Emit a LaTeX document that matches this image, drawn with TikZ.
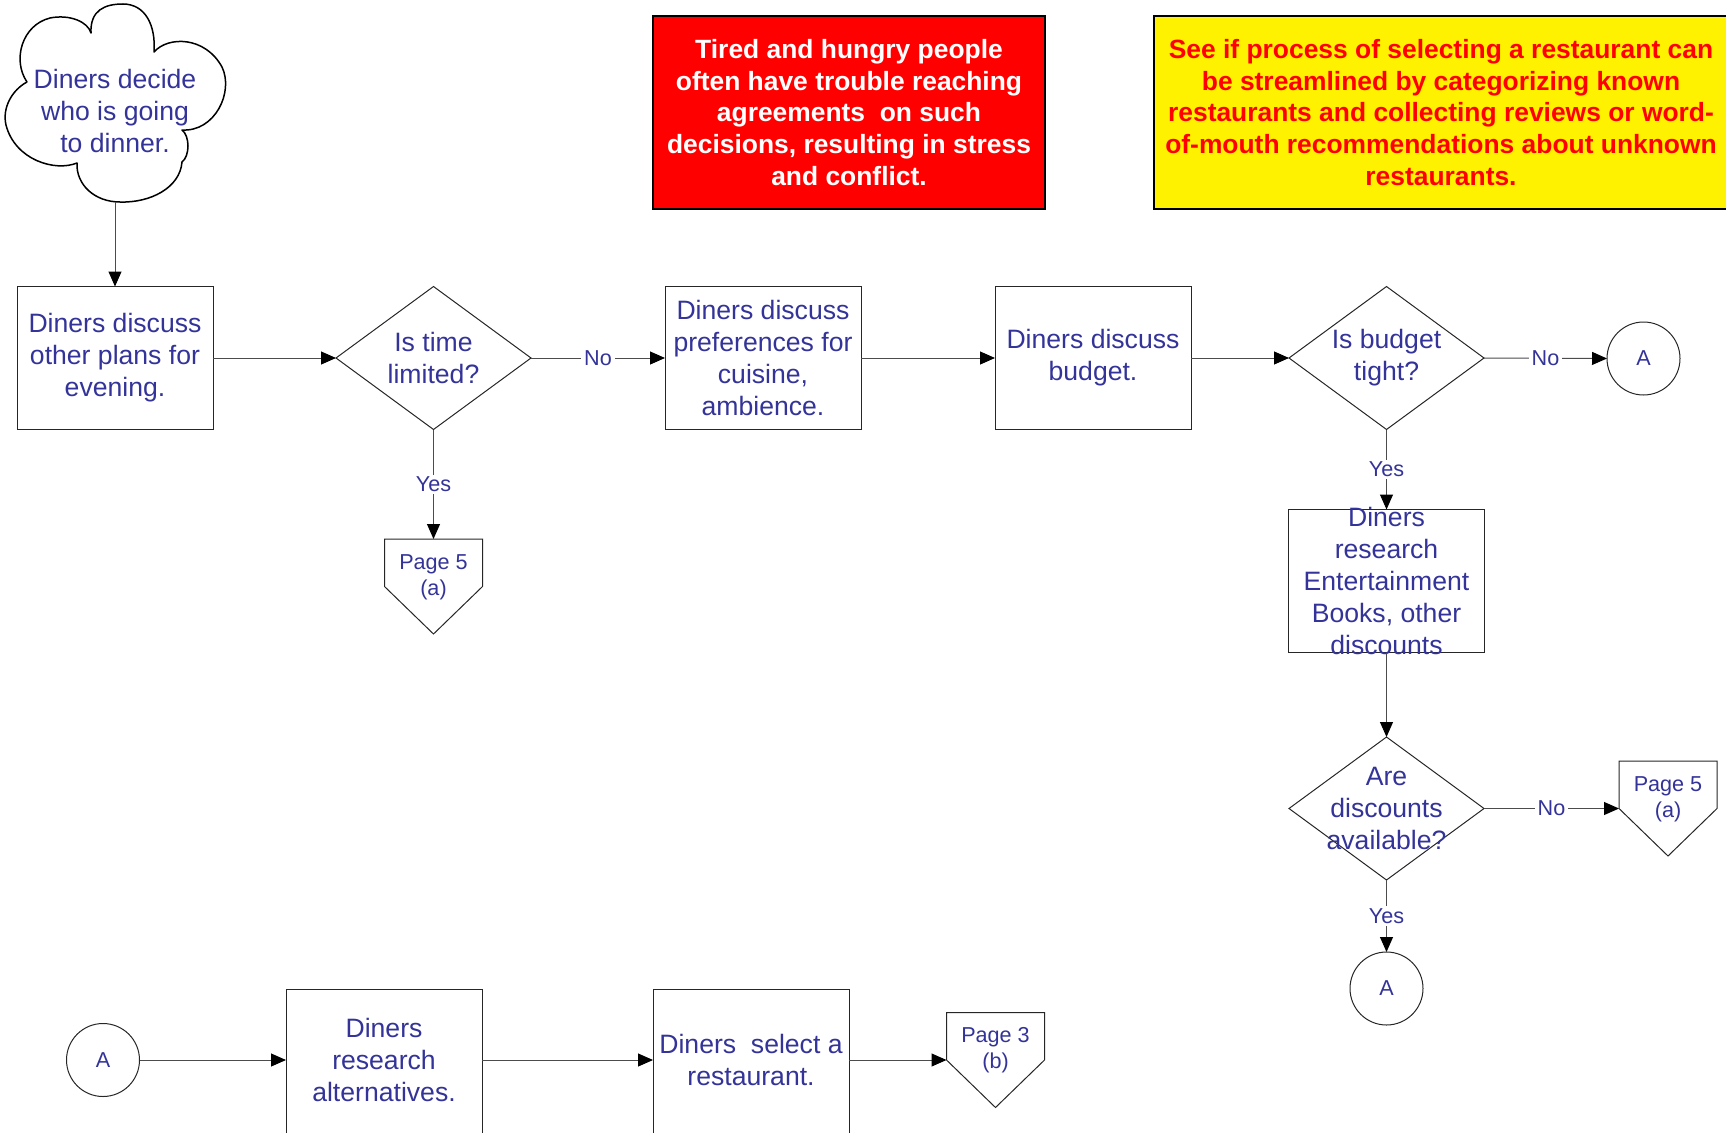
\documentclass[tikz,border=0pt]{standalone}
\usepackage{fontspec}
\setmainfont{Liberation Sans}
\usetikzlibrary{shapes.geometric,arrows.meta,calc}
\definecolor{txtblue}{RGB}{51,51,153}
\newcommand\offpg[4]{%
  \node[pgbox] (#1) at (#2,#3) {};
  \draw[shp] (#1.north west) -- (#1.north east) -- (#1.east) -- (#1.south) -- (#1.west) -- cycle;
  \node[stxt] (#1t) at ([yshift=9.5pt]#1.center) {#4};
}
\begin{document}
\begin{tikzpicture}[x=1pt,y=-1pt,
  box/.style={draw=black!85, line width=1pt, minimum width=196pt, minimum height=143pt, inner sep=0pt, outer sep=0pt, font=\fontsize{26.6}{32}\selectfont, text=txtblue, align=center},
  dec/.style={diamond, draw=black!85, line width=1pt, minimum width=195pt, minimum height=143pt, inner sep=0pt, outer sep=0pt},
  mtxt/.style={font=\fontsize{26.6}{32}\selectfont, text=txtblue, align=center, inner sep=0pt},
  stxt/.style={font=\fontsize{21.6}{26}\selectfont, text=txtblue, align=center, inner sep=0pt},
  conn/.style={circle, draw=black!85, line width=1pt, minimum size=73pt, inner sep=0pt, outer sep=0pt, font=\fontsize{21.6}{26}\selectfont, text=txtblue},
  arr/.style={draw=black!70, line width=1pt, -{Triangle[length=15pt,width=13pt,color=black]}},
  lab/.style={fill=white, font=\fontsize{21.6}{26}\selectfont, text=txtblue, inner xsep=3pt, inner ysep=2pt},
  pgbox/.style={minimum width=98pt, minimum height=95pt, inner sep=0pt, outer sep=0pt},
  shp/.style={draw=black!85, line width=1pt, line join=miter},
  cloudline/.style={draw=black, line width=1.5pt, line join=round},
  note/.style={draw=black, line width=1.5pt, inner sep=0pt, minimum height=193pt, font=\bfseries\fontsize{26.4}{31.7}\selectfont, align=center},
]
\useasboundingbox (0,0) rectangle (1726,1132);

% notes
\node[note, fill=red, text=white, minimum width=392pt] (n1) at (849,112.5)
  {Tired and hungry people\\often have trouble reaching\\agreements~ on such\\decisions, resulting in stress\\and conflict.};
\node[note, fill=yellow, text=red, minimum width=574pt] (n2) at (1441,112.5)
  {See if process of selecting a restaurant can\\be streamlined by categorizing known\\restaurants and collecting reviews or word-\\of-mouth recommendations about unknown\\restaurants.};

% start cloud
\node[minimum width=222pt, minimum height=197.5pt, inner sep=0pt, outer sep=0pt] (start) at (115,103.25) {};
\draw[cloudline]
  (91,33) .. controls (90,10) and (105,4) .. (123,4)
          .. controls (145,4) and (156,25) .. (154,52)
          .. controls (168,36) and (205,36) .. (222,67)
          .. controls (234,92) and (215,132) .. (182,130)
          .. controls (190,136) and (190,156) .. (182,162)
          .. controls (180,188) and (150,203) .. (120,202)
          .. controls (95,202) and (76,185) .. (77,163)
          .. controls (55,172) and (15,160) .. (6,125)
          .. controls (2,108) and (12,90) .. (27,82)
          .. controls (12,60) and (22,25) .. (50,18)
          .. controls (70,14) and (88,22) .. (91,33) -- cycle;
\node[mtxt] (starttext) at (115,111) {Diners decide\\who is going\\to dinner.};

% main row
\node[box] (box1) at (115,358) {Diners discuss\\other plans for\\evening.};
\node[dec, label={[mtxt]center:{Is time\\limited?}}] (d1) at (433.5,358) {};
\node[box] (box2) at (763,358) {Diners discuss\\preferences for\\cuisine,\\ambience.};
\node[box] (box3) at (1093,358) {Diners discuss\\budget.};
\node[dec, label={[mtxt]center:{Is budget\\tight?}}] (d2) at (1386.5,358) {};
\node[conn] (a1) at (1643.5,358.5) {A};

\offpg{p1}{433.5}{586.5}{Page 5\\(a)}

% right column
\node[box, label={[mtxt]center:{Diners\\research\\Entertainment\\Books, other\\discounts}}] (box4) at (1386.5,581) {};
\node[dec, label={[mtxt]center:{Are\\discounts\\available?}}] (d3) at (1386.5,808.5) {};
\offpg{p2}{1668}{808.5}{Page 5\\(a)}
\node[conn] (a2) at (1386.5,988.5) {A};

% bottom row
\node[conn] (a3) at (103,1060) {A};
\node[box, minimum height=146pt, label={[mtxt,yshift=2pt]center:{Diners\\research\\alternatives.}}] (box5) at (384,1062) {};
\node[box, minimum height=146pt, label={[mtxt,yshift=2pt]center:{Diners~ select a\\restaurant.}}] (box6) at (751,1062) {};
\offpg{p3}{995.5}{1060}{Page 3\\(b)}

% connectors
\draw[arr] (start.south) -- (box1.north);
\draw[arr] (box1.east) -- (d1.west);
\draw[arr] (d1.east) -- node[lab]{No} (box2.west);
\draw[arr] (d1.south) -- node[lab]{Yes} (p1.north);
\draw[arr] (box2.east) -- (box3.west);
\draw[arr] (box3.east) -- (d2.west);
\draw[arr] (d2.east) -- node[lab]{No} (a1.west);
\draw[arr] (d2.south) -- node[lab]{Yes} (box4.north);
\draw[arr] (box4.south) -- (d3.north);
\draw[arr] (d3.east) -- node[lab]{No} (p2.west);
\draw[arr] (d3.south) -- node[lab]{Yes} (a2.north);
\draw[arr] (a3.east) -- (a3.east -| box5.west);
\draw[arr] (a3.east -| box5.east) -- (a3.east -| box6.west);
\draw[arr] (a3.east -| box6.east) -- (p3.west);
\end{tikzpicture}
\end{document}
